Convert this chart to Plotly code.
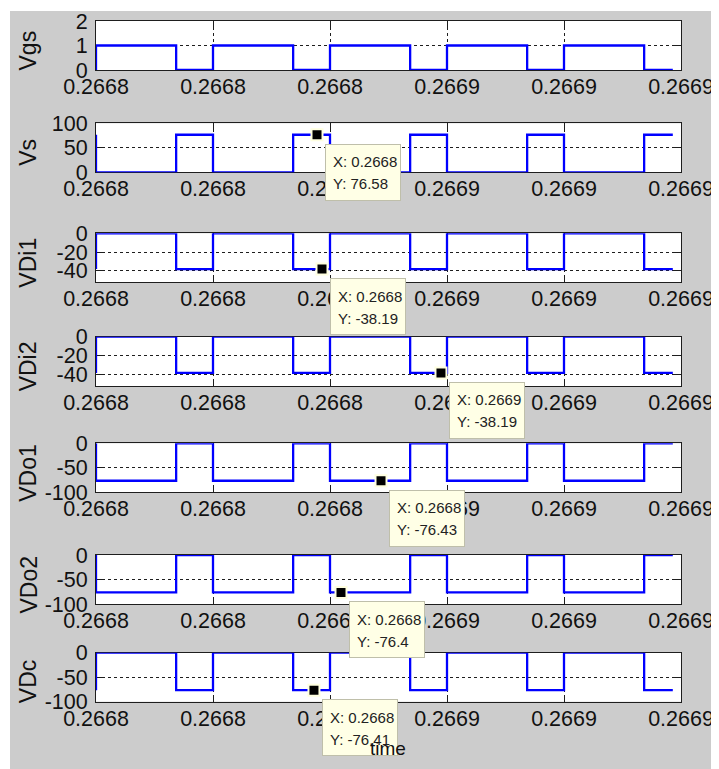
import plotly.graph_objects as go

# ---------------- data ----------------
# breakpoints of the switching waveforms, seconds (line drawn as step 'hv')
time_s = [0.266796, 0.266796, 0.2668097, 0.266816, 0.2668297, 0.266836,
          0.2668497, 0.266856, 0.2668697, 0.266876, 0.2668897, 0.2668946]

vgs  = [0, 1, 0, 1, 0, 1, 0, 1, 0, 1, 0, 0]
vs   = [76.6, 0, 76.6, 0, 76.6, 0, 76.6, 0, 76.6, 0, 76.6, 76.6]
vdi1 = [-38.19, 0, -38.19, 0, -38.19, 0, -38.19, 0, -38.19, 0, -38.19, -38.19]
vdi2 = [-38.19, 0, -38.19, 0, -38.19, 0, -38.19, 0, -38.19, 0, -38.19, -38.19]
vdo1 = [0, -76.4, 0, -76.4, 0, -76.4, 0, -76.4, 0, -76.4, 0, 0]
vdo2 = [0, -76.4, 0, -76.4, 0, -76.4, 0, -76.4, 0, -76.4, 0, 0]
vdc  = [-76.4, 0, -76.4, 0, -76.4, 0, -76.4, 0, -76.4, 0, -76.4, -76.4]

signal_names = ["Vgs", "Vs", "VDi1", "VDi2", "VDo1", "VDo2", "VDc"]
signal_values = [vgs, vs, vdi1, vdi2, vdo1, vdo2, vdc]

x_ticks = [0.266796, 0.266816, 0.266836, 0.266856, 0.266876, 0.266896]
x_ticklabels = ["0.2668", "0.2668", "0.2668", "0.2669", "0.2669", "0.2669"]

y_ranges = [[0, 2], [0, 100], [-52, 0], [-52, 0], [-100, 0], [-100, 0], [-100, 0]]
y_ticks = [[0, 1, 2], [0, 50, 100], [-40, -20, 0], [-40, -20, 0],
           [-100, -50, 0], [-100, -50, 0], [-100, -50, 0]]

# data tips (None = no tip on that subplot)
tip_time  = [None, 0.26683378, 0.26683463, 0.26685497, 0.26684472, 0.26683788, 0.26683326]
tip_value = [None, 76.58, -38.19, -38.19, -76.43, -76.4, -76.41]
tip_xtext = [None, "X: 0.2668", "X: 0.2668", "X: 0.2669", "X: 0.2668", "X: 0.2668", "X: 0.2668"]
tip_ytext = [None, "Y: 76.58", "Y: -38.19", "Y: -38.19", "Y: -76.43", "Y: -76.4", "Y: -76.41"]

x_title = "time"

# ---------------- layout geometry ----------------
# the page body has an 8px margin, so the figure is laid out in window pixels minus 8
OFF = 8
W, H = 719 - OFF, 769 - OFF
FONT = "Liberation Sans, Arial, sans-serif"
frames_px = [(21, 70), (123.3, 172.3), (233.3, 282), (336.7, 386),
             (443.3, 492.3), (555, 604), (652.7, 701.7)]
x_px = (96, 681)
INK = "#1e1e1e"


def fx(px):
    return (px - OFF) / W


def fy(px):
    return 1 - (px - OFF) / H


fig = go.Figure()
layout = dict(
    width=W, height=H,
    margin=dict(l=0, r=0, t=0, b=0, pad=0),
    paper_bgcolor="#CCCCCC",
    plot_bgcolor="white",
    showlegend=False,
    shapes=[
        dict(type="rect", xref="paper", yref="paper", x0=0, x1=1,
             y0=fy(11), y1=1, fillcolor="white", line=dict(width=0), layer="below"),
        dict(type="rect", xref="paper", yref="paper", x0=0, x1=fx(10),
             y0=0, y1=1, fillcolor="white", line=dict(width=0), layer="below"),
    ],
)
annotations = []

for i, (name, vals) in enumerate(zip(signal_names, signal_values)):
    n = i + 1
    xa_name = "xaxis" if n == 1 else f"xaxis{n}"
    ya_name = "yaxis" if n == 1 else f"yaxis{n}"
    xr = "x" if n == 1 else f"x{n}"
    yr = "y" if n == 1 else f"y{n}"
    top, bot = frames_px[i]
    common = dict(
        automargin=False,
        ticks="inside", ticklen=6, tickcolor=INK, tickwidth=1,
        showline=True, linecolor=INK, linewidth=1, mirror="allticks",
        showgrid=True, gridcolor=INK, gridwidth=1, griddash="3px,3px",
        zeroline=False, layer="below traces", fixedrange=True,
        tickfont=dict(family=FONT, size=21.5, color="#111"),
    )
    layout[xa_name] = dict(
        domain=[fx(x_px[0]), fx(x_px[1])], anchor=yr,
        range=[x_ticks[0], x_ticks[-1]],
        tickmode="array", tickvals=x_ticks, ticktext=x_ticklabels,
        ticklabelstandoff=-3,
        **common)
    layout[ya_name] = dict(
        domain=[fy(bot), fy(top)], anchor=xr,
        range=y_ranges[i], tickmode="array", tickvals=y_ticks[i],
        ticktext=[str(v) for v in y_ticks[i]],
        ticklabelstandoff=3,
        **common)

    fig.add_trace(go.Scatter(
        x=time_s, y=vals, mode="lines", xaxis=xr, yaxis=yr,
        line=dict(color="#0000FF", width=2.3, shape="hv"),
        hoverinfo="skip"))

    # y label
    annotations.append(dict(
        xref="paper", yref="paper", x=fx(28), y=fy((top + bot) / 2 + 5),
        text=name, textangle=-90, showarrow=False, xanchor="center", yanchor="middle",
        font=dict(family=FONT, size=23, color="#111")))

    if tip_time[i] is not None:
        fig.add_trace(go.Scatter(
            x=[tip_time[i]], y=[tip_value[i]], mode="markers", xaxis=xr, yaxis=yr,
            marker=dict(symbol="square", size=11, color="black",
                        line=dict(color="#FFFFE0", width=2)),
            cliponaxis=False, hoverinfo="skip"))
        annotations.append(dict(
            xref=xr, yref=yr, x=tip_time[i], y=tip_value[i],
            xanchor="left", yanchor="top", xshift=8, yshift=-9,
            text=" ", width=74, height=55, bgcolor="#FFFFE6",
            bordercolor="#BFBFAA", borderwidth=1, borderpad=0, showarrow=False))
        for txt, dy in ((tip_xtext[i], -27), (tip_ytext[i], -49)):
            annotations.append(dict(
                xref=xr, yref=yr, x=tip_time[i], y=tip_value[i],
                xanchor="left", yanchor="middle", xshift=14, yshift=dy,
                text=txt, showarrow=False,
                font=dict(family=FONT, size=15, color="#222")))

annotations.append(dict(
    xref="paper", yref="paper", x=fx(388), y=fy(748), text=x_title,
    showarrow=False, xanchor="center", yanchor="middle",
    font=dict(family=FONT, size=19, color="#111")))

layout["annotations"] = annotations
fig.update_layout(**layout)
fig.write_html("out.html")
